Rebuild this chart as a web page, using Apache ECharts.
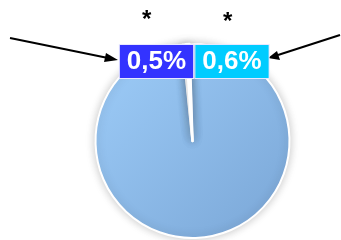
<!DOCTYPE html>
<html>
<head>
<meta charset="utf-8">
<script src="https://cdn.jsdelivr.net/npm/echarts@6/dist/echarts.min.js"></script>
<style>
  html, body { margin: 0; padding: 0; background: #fff; }
  #chart { width: 341px; height: 240px; }
</style>
</head>
<body>
<div id="chart"></div>
<script>
// slice data (percent)
const names = ['Rest', 'A', 'B'];
const values = [98.9, 0.5, 0.6];
const labelTexts = ['', '0,5%', '0,6%'];
const labelColors = ['', '#3333ff', '#00ccff'];
const markTexts = ['*', '*'];

const chart = echarts.init(document.getElementById('chart'));

// label box centres for the two small slices
const labelPos = { 1: [156.5, 61.5], 2: [232, 61.5] };

const seriesData = values.map((v, i) => {
  if (i === 0) {
    return {
      name: names[i],
      value: v,
      label: { show: false },
      itemStyle: {
        color: new echarts.graphic.LinearGradient(0, 0, 1, 1, [
          { offset: 0, color: '#9ecdf9' },
          { offset: 1, color: '#7aa6d6' }
        ])
      }
    };
  }
  return {
    name: names[i],
    value: v,
    itemStyle: { color: '#ffffff', borderWidth: 2.5 },
    label: {
      show: true,
      formatter: labelTexts[i],
      backgroundColor: labelColors[i],
      borderColor: '#e8e8ff',
      borderWidth: 1,
      padding: [4, 7, 3, 7]
    }
  };
});

chart.setOption({
  animation: false,
  series: [{
    type: 'pie',
    center: [192.5, 141],
    radius: 97,
    startAngle: 90 + values[1] * 3.6,
    clockwise: true,
    avoidLabelOverlap: false,
    itemStyle: {
      borderColor: '#ffffff',
      borderWidth: 2,
      shadowBlur: 10,
      shadowColor: 'rgba(0,0,0,0.22)'
    },
    label: {
      color: '#ffffff',
      fontFamily: 'Liberation Sans, Arial, sans-serif',
      fontWeight: 'bold',
      fontSize: 26,
      lineHeight: 26
    },
    labelLine: { show: false },
    labelLayout: function (params) {
      const p = labelPos[params.dataIndex];
      if (!p) return {};
      return { x: p[0], y: p[1], align: 'center', verticalAlign: 'middle' };
    },
    emphasis: { disabled: true },
    data: seriesData
  }],
  graphic: [
    // asterisks
    { type: 'text', left: 142, top: 8, style: { text: markTexts[0], fontSize: 24, fontWeight: 'bold', fontFamily: 'Liberation Sans, Arial, sans-serif', fill: '#000' } },
    { type: 'text', left: 223, top: 10, style: { text: markTexts[1], fontSize: 24, fontWeight: 'bold', fontFamily: 'Liberation Sans, Arial, sans-serif', fill: '#000' } },
    // left arrow
    { type: 'line', shape: { x1: 10, y1: 38, x2: 108, y2: 58 }, style: { stroke: '#000', lineWidth: 2 } },
    { type: 'polygon', shape: { points: [[118, 60], [106, 53], [104, 62]] }, style: { fill: '#000' } },
    // right arrow
    { type: 'line', shape: { x1: 340, y1: 35, x2: 278, y2: 55 }, style: { stroke: '#000', lineWidth: 2 } },
    { type: 'polygon', shape: { points: [[268, 58], [277, 51], [280, 60]] }, style: { fill: '#000' } }
  ]
});
</script>
</body>
</html>
